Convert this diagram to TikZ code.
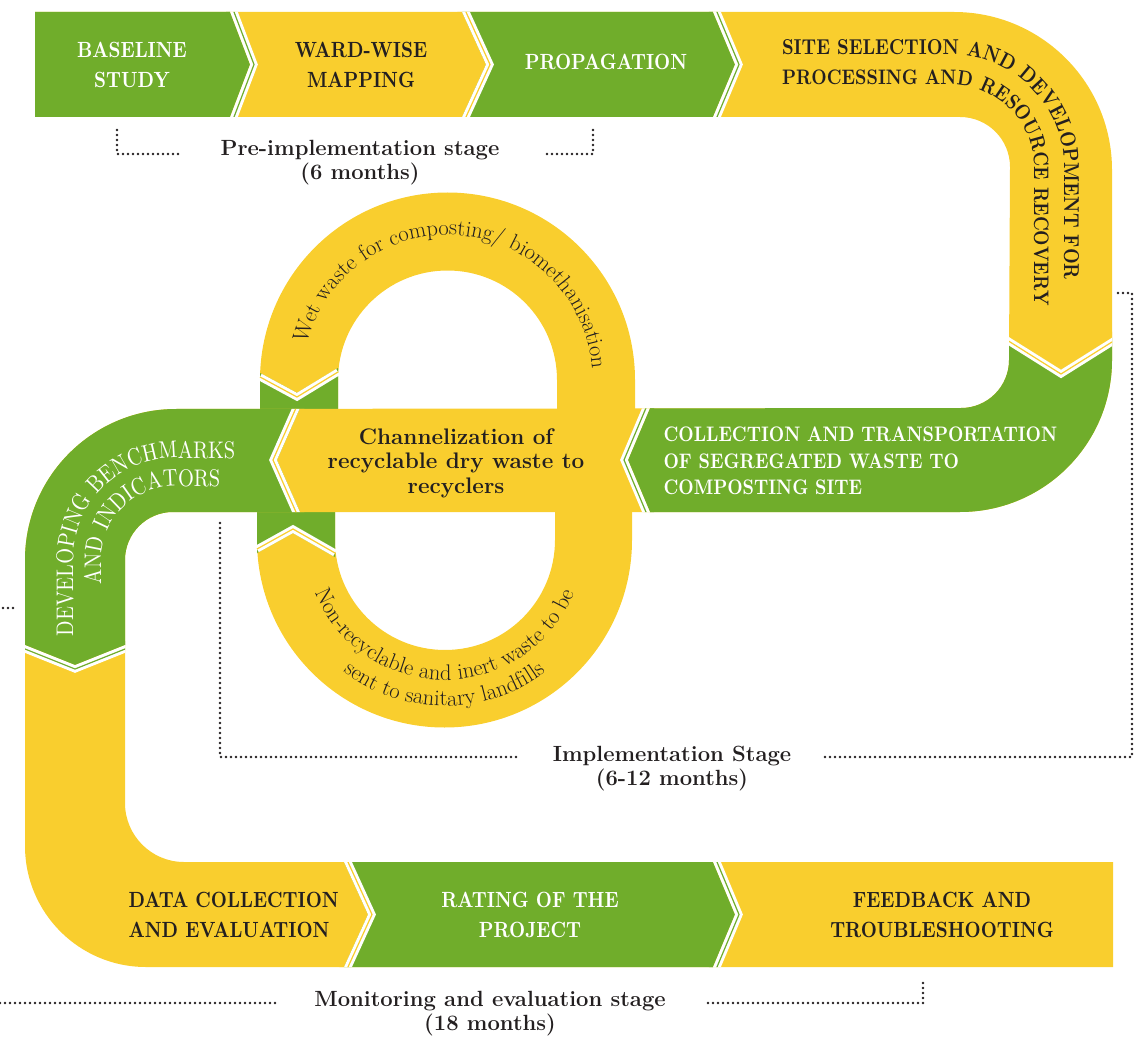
\documentclass[tikz,border=0pt]{standalone}
\usepackage{fontspec}
\usepackage{tikz}
\usetikzlibrary{decorations.text}
\newfontfamily\narrow{lmroman10}[Extension=.otf, UprightFont=*-regular, BoldFont=*-bold, FakeStretch=0.85]
\definecolor{grn}{RGB}{112,173,43}
\definecolor{ylw}{RGB}{249,206,46}
\definecolor{ink}{RGB}{35,31,32}
\newcommand{\ringfont}{\fontsize{22.5}{24}\selectfont}
\newcommand{\pipeoutline}{(35,-12) -- (954,-12) arc[start angle=90, end angle=0, radius=158]
  -- (1112,-360) arc[start angle=0, end angle=-90, radius=152]
  -- (173,-512) arc[start angle=90, end angle=180, radius=48]
  -- (125,-803) arc[start angle=180, end angle=270, radius=59]
  -- (1113,-862) -- (1113,-967) -- (146,-967) arc[start angle=270, end angle=180, radius=121]
  -- (25,-560) arc[start angle=180, end angle=90, radius=151]
  -- (961,-408) arc[start angle=-90, end angle=0, radius=48]
  -- (1010,-167) arc[start angle=0, end angle=90, radius=50]
  -- (35,-117) -- cycle}

\begin{document}
\begin{tikzpicture}[x=1pt, y=1pt,
    capw/.style={font=\narrow\bfseries\fontsize{22}{30}\selectfont, text=white, align=center},
    capk/.style={font=\narrow\bfseries\fontsize{22}{30}\selectfont, text=ink, align=center},
    stage/.style={font=\bfseries\fontsize{22}{24}\selectfont, text=ink, align=center},
    sep/.style={draw=white, line width=3pt, double=#1, double distance=1.2pt},
    bracket/.style={draw=ink, line width=2.8pt, line cap=round, dash pattern=on 0pt off 5pt}]
    \useasboundingbox (0,0) rectangle (1140,-1040);

    % upper loop
    \fill[ylw] (260,-420) -- (260,-380) arc[start angle=180, end angle=0, radius=187.5] -- (635,-420)
        -- (557,-420) -- (557,-380) arc[start angle=0, end angle=180, radius=109.5] -- (338,-420) -- cycle;
    \fill[grn] (260,-373) -- (297,-393) -- (338,-368) -- (338,-415) -- (260,-415) -- cycle;
    \draw[sep=ylw] (260,-377) -- (297,-397) -- (338,-372);

    % lower loop
    \fill[ylw] (257,-500) -- (257,-540) arc[start angle=180, end angle=360, radius=187.5] -- (632,-500)
        -- (555,-500) -- (555,-540) arc[start angle=360, end angle=180, radius=110] -- (335,-500) -- cycle;
    \fill[grn] (257,-505) -- (335,-505) -- (335,-557) -- (293,-533) -- (257,-553) -- cycle;
    \draw[sep=ylw] (257,-549) -- (293,-529) -- (335,-553);

    % the winding band
    \begin{scope}
        \clip \pipeoutline;
        \fill[ylw] (0,0) rectangle (1140,-1040);
        \fill[grn] (0,0) rectangle (230,-130);
        \fill[grn] (462,0) rectangle (713,-130);
        \fill[grn] (650,-338) rectangle (1130,-530);
        \fill[grn] (0,-390) rectangle (300,-645);
        \fill[grn] (344,-850) rectangle (713,-980);

        \fill[grn] (226.2,-2) -- (250,-64.5) -- (226.2,-127) -- cycle;
        \fill[ylw] (457.4,-2) -- (486,-64.5) -- (457.4,-127) -- cycle;
        \fill[grn] (708.8,-2) -- (735,-64.5) -- (708.8,-127) -- cycle;
        \fill[ylw] (1000,-331.7) -- (1061,-370) -- (1122,-331.7) -- cycle;
        \fill[grn] (654.2,-398) -- (628,-460) -- (654.2,-522) -- cycle;
        \fill[ylw] (304.4,-398) -- (277,-460) -- (304.4,-522) -- cycle;
        \fill[grn] (15,-641) -- (75,-665) -- (135,-641) -- cycle;
        \fill[ylw] (339.4,-852) -- (368,-914.5) -- (339.4,-977) -- cycle;
        \fill[grn] (708.8,-852) -- (735,-914.5) -- (708.8,-977) -- cycle;

        \draw[sep=grn] (230.2,-2) -- (254,-64.5) -- (230.2,-127);
        \draw[sep=ylw] (461.4,-2) -- (490,-64.5) -- (461.4,-127);
        \draw[sep=grn] (712.8,-2) -- (739,-64.5) -- (712.8,-127);
        \draw[sep=ylw] (1000,-335.7) -- (1061,-374) -- (1122,-335.7);
        \draw[sep=grn] (650.2,-398) -- (624,-460) -- (650.2,-522);
        \draw[sep=ylw] (300.4,-398) -- (273,-460) -- (300.4,-522);
        \draw[sep=grn] (15,-645) -- (75,-669) -- (135,-645);
        \draw[sep=ylw] (343.4,-852) -- (372,-914.5) -- (343.4,-977);
        \draw[sep=grn] (712.8,-852) -- (739,-914.5) -- (712.8,-977);
    \end{scope}

    % step labels
    \node[capw] (baseline) at (132,-64.5) {BASELINE\\STUDY};
    \node[capk] (wardwise) at (361,-64.5) {WARD-WISE\\MAPPING};
    \node[capw] (propagation) at (606,-62) {PROPAGATION};
    \node[capw, anchor=west, align=left, font=\narrow\bfseries\fontsize{21}{26.5}\selectfont] (collection) at (660,-461)
        {COLLECTION AND TRANSPORTATION\\OF SEGREGATED WASTE TO\\COMPOSTING SITE};
    \node[font=\bfseries\fontsize{22.5}{24.5}\selectfont, text=ink, align=center] (channel) at (456,-463)
        {Channelization of\\recyclable dry waste to\\recyclers};
    \node[capk, anchor=west, align=left] (datacoll) at (125,-914.5) {DATA COLLECTION\\AND EVALUATION};
    \node[capw] (rating) at (530,-914.5) {RATING OF THE\\PROJECT};
    \node[capk] (feedback) at (942,-914.5) {FEEDBACK AND\\TROUBLESHOOTING};

    % curved labels
    \path[decorate, decoration={text along path, text align=left, text color=ink,
        text={|\narrow\bfseries\fontsize{21.5}{22}\selectfont|SITE SELECTION AND DEVELOPMENT FOR}}]
        (782,-55) -- (952,-55) arc[start angle=90, end angle=0, radius=112] -- (1064,-340);
    \path[decorate, decoration={text along path, text align=left, text color=ink,
        text={|\narrow\bfseries\fontsize{21}{22}\selectfont|PROCESSING AND RESOURCE RECOVERY}}]
        (782,-85) -- (952,-85) arc[start angle=90, end angle=0, radius=82] -- (1034,-340);
    \path[decorate, decoration={text along path, text align=left, text color=white,
        text={|\narrow\fontsize{24}{26}\selectfont|DEVELOPING BENCHMARKS}}]
        (73,-636) -- (73,-560) arc[start angle=180, end angle=90, radius=102] -- (300,-458);
    \path[decorate, decoration={text along path, text align=left, text color=white,
        text={|\narrow\fontsize{24}{26}\selectfont|AND INDICATORS}}]
        (101,-584) -- (101,-560) arc[start angle=180, end angle=90, radius=74] -- (300,-486);
    \path[decorate, decoration={text along path, text align=center, text color=ink,
        text={|\ringfont|Wet waste for composting/ biomethanisation}}]
        ([shift={(447.5,-380)}]178:145) arc[start angle=178, end angle=-8, radius=145];
    \path[decorate, decoration={text along path, text align=center, text color=ink,
        text={|\ringfont|Non-recyclable and inert waste to be}}]
        (304.5,-540) arc[start angle=180, end angle=360, radius=140];
    \path[decorate, decoration={text along path, text align=center, text color=ink,
        text={|\ringfont|sent to sanitary landfills}}]
        (278.5,-540) arc[start angle=180, end angle=360, radius=166];

    % stages
    \node[stage] (prestage) at (360,-163) {Pre-implementation stage\\(6 months)};
    \node[stage] (implstage) at (672,-769) {Implementation Stage\\(6-12 months)};
    \node[stage] (monstage) at (490,-1014) {Monitoring and evaluation stage\\(18 months)};

    \draw[bracket] (178,-154) -- (117,-154) -- (117,-130);
    \draw[bracket] (547,-154) -- (593,-154) -- (593,-130);
    \draw[bracket] (220,-523) -- (220,-757) -- (518,-757);
    \draw[bracket] (825,-757) -- (1132,-757) -- (1132,-293) -- (1118,-293);
    \draw[bracket] (13,-608) -- (-10,-608);
    \draw[bracket] (-10,-1003) -- (277,-1003);
    \draw[bracket] (708,-1003) -- (923,-1003) -- (923,-980);
\end{tikzpicture}
\end{document}
